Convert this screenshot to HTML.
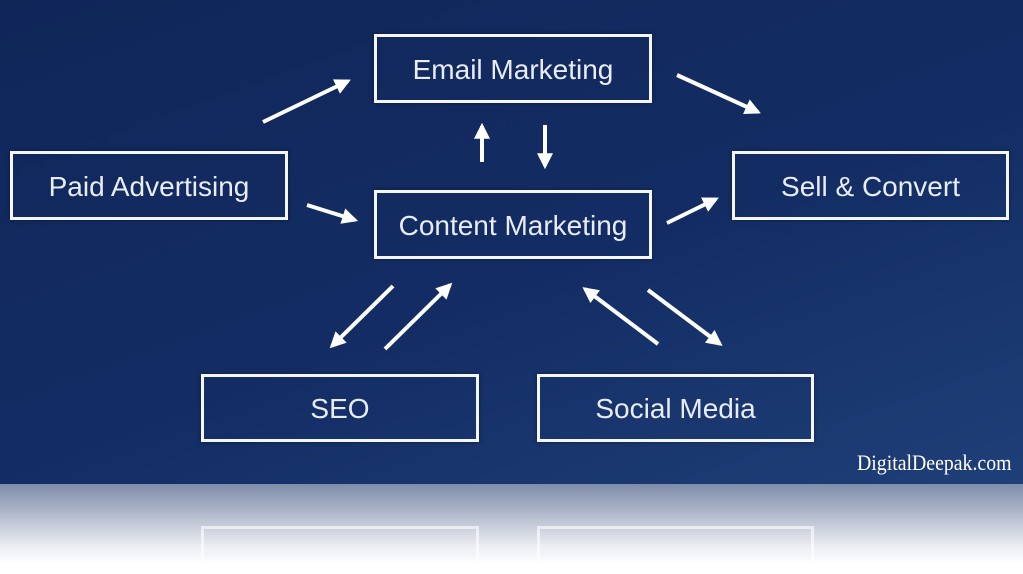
<!DOCTYPE html>
<html><head><style>
body{margin:0;width:1023px;height:574px;overflow:hidden;background:#fff;font-family:"Liberation Sans",sans-serif}
.slide{position:absolute;left:0;top:0;width:1023px;height:484px;background:linear-gradient(160deg,#102659 0%,#132d64 55%,#1f3f78 100%)}
.ref{position:absolute;left:0;top:484px;width:1023px;height:90px;background:linear-gradient(180deg,#7f8daa 0%,#b4bccd 35%,#eceef3 70%,#fff 90%)}
.b{position:absolute;box-sizing:border-box;border:3px solid #f4f6fa;color:#e8ecf4;font-size:28px;display:flex;align-items:center;justify-content:center;box-shadow:0 0 4px rgba(0,0,0,.4);padding-top:2px}
.r{position:absolute;box-sizing:border-box;border:3px solid rgba(255,255,255,.6);border-bottom:none;height:40px;top:526px}
</style></head><body>
<div class="slide"></div>
<div class="ref"></div>
<div class="b" style="left:374px;top:34px;width:278px;height:69px">Email Marketing</div>
<div class="b" style="left:10px;top:151px;width:278px;height:69px">Paid Advertising</div>
<div class="b" style="left:374px;top:190px;width:278px;height:69px">Content Marketing</div>
<div class="b" style="left:732px;top:151px;width:277px;height:69px">Sell &amp; Convert</div>
<div class="b" style="left:201px;top:374px;width:278px;height:68px">SEO</div>
<div class="b" style="left:537px;top:374px;width:277px;height:68px">Social Media</div>
<div class="r" style="left:201px;width:278px"></div>
<div class="r" style="left:537px;width:277px"></div>
<div style="position:absolute;left:857px;top:450px;color:#fff;font-family:'Liberation Serif',serif;font-size:22px;transform:scaleX(0.9);transform-origin:left top;white-space:nowrap">DigitalDeepak.com</div>
<svg width="1023" height="484" style="position:absolute;left:0;top:0">
<defs><marker id="a" viewBox="0 0 10 10" refX="8" refY="5" markerWidth="4" markerHeight="4" orient="auto"><path d="M0,0L10,5L0,10z" fill="#fff"/></marker></defs>
<g stroke="#fff" stroke-width="4" marker-end="url(#a)" fill="none">
<line x1="263" y1="122" x2="348" y2="81"/>
<line x1="307" y1="205" x2="355" y2="220"/>
<line x1="482" y1="162" x2="482" y2="126"/>
<line x1="545" y1="125" x2="545" y2="166"/>
<line x1="677" y1="75" x2="758" y2="112"/>
<line x1="667" y1="223" x2="716" y2="199"/>
<line x1="393" y1="286" x2="332" y2="346"/>
<line x1="385" y1="349" x2="450" y2="285"/>
<line x1="658" y1="344" x2="585" y2="289"/>
<line x1="648" y1="290" x2="720" y2="344"/>
</g></svg>
</body></html>
